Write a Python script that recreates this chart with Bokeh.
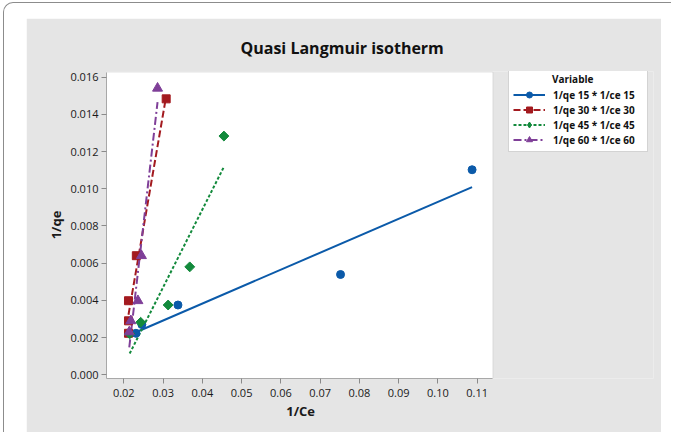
import numpy as np
from bokeh.plotting import figure
from bokeh.models import (Legend, LegendItem, FixedTicker, NumeralTickFormatter,
                          Title, BoxAnnotation)
from bokeh.layouts import column
from bokeh.embed import file_html
from bokeh.resources import INLINE

# ---- data ----
x15 = [0.0231, 0.0246, 0.0338, 0.0752, 0.1087]
y15 = [0.00223, 0.0027, 0.00375, 0.00539, 0.01102]
x30 = [0.0212, 0.0212, 0.0212, 0.0232, 0.0308]
y30 = [0.00223, 0.0029, 0.00398, 0.0064, 0.01483]
x45 = [0.0215, 0.0243, 0.0313, 0.0368, 0.0455]
y45 = [0.0022, 0.00282, 0.00375, 0.0058, 0.01283]
x60 = [0.0214, 0.0218, 0.0236, 0.0245, 0.0286]
y60 = [0.0023, 0.0029, 0.00398, 0.0064, 0.0154]
series_labels = ["1/qe 15 * 1/ce 15", "1/qe 30 * 1/ce 30",
                 "1/qe 45 * 1/ce 45", "1/qe 60 * 1/ce 60"]
x_ticks = [0.02, 0.03, 0.04, 0.05, 0.06, 0.07, 0.08, 0.09, 0.10, 0.11]
y_ticks = [0.000, 0.002, 0.004, 0.006, 0.008, 0.010, 0.012, 0.014, 0.016]

# plotted data window (white area) and extended frame holding the legend
X0, X1 = 0.0156, 0.1140
Y0, Y1 = -0.0002, 0.01627
X_FRAME_END = 0.1549
Y_FRAME_END = 0.01630

FONT = "Open Sans"
GRAY = "#e5e5e5"
NBSP = "\u00a0"
colors = ["#0b5aa9", "#a31a1f", "#138a3c", "#7f3f98"]
dashes = ["solid", "7 3", "3 2", "8 3 2 3"]
markers = ["circle", "square", "square", "triangle"]
angles = [0, 0, np.pi / 4, 0]
msizes = [8, 8, 7, 10]

p = figure(width=635, height=415, output_backend="svg", toolbar_location=None,
           x_range=(X0, X_FRAME_END), y_range=(Y0, Y_FRAME_END),
           min_border_left=80, min_border_right=8, min_border_top=53,
           min_border_bottom=55, background_fill_color=GRAY,
           border_fill_color=GRAY, outline_line_color=None)
p.grid.visible = False
p.margin = (15, 10, 0, 22)

p.add_layout(BoxAnnotation(left=X0, right=X1, bottom=Y0, top=Y1,
                           fill_color="white", fill_alpha=1.0,
                           line_color="#a8a8a8", line_width=1,
                           level="underlay"))

p.title = Title(text="Quasi Langmuir isotherm", align="left", offset=134,
                text_font=FONT, text_font_size="16px", text_font_style="bold",
                text_color="#111111", standoff=26)

for ax in (p.xaxis[0], p.yaxis[0]):
    ax.axis_line_color = "#a8a8a8"
    ax.major_tick_line_color = "#8a8a8a"
    ax.major_tick_out = 5
    ax.major_tick_in = 0
    ax.minor_tick_line_color = None
    ax.major_label_text_font = FONT
    ax.major_label_text_font_size = "11px"
    ax.major_label_text_color = "#1a1a1a"
    ax.axis_label_text_font = FONT
    ax.axis_label_text_font_size = "13px"
    ax.axis_label_text_font_style = "bold"
    ax.axis_label_text_color = "#1a1a1a"

p.xaxis.ticker = FixedTicker(ticks=x_ticks)
p.xaxis.formatter = NumeralTickFormatter(format="0.00")
p.xaxis.bounds = (X0, X1)
# trailing spaces shift the centred label over the white data window
p.xaxis.axis_label = "1/Ce" + NBSP * 47
p.xaxis.major_label_standoff = 5
p.xaxis.axis_label_standoff = 2
p.yaxis.ticker = FixedTicker(ticks=y_ticks)
p.yaxis.formatter = NumeralTickFormatter(format="0.000")
p.yaxis.bounds = (Y0, Y1)
p.yaxis.axis_label = "1/qe"
p.yaxis.major_label_standoff = 3
p.yaxis.axis_label_standoff = 2

xs_all = [x15, x30, x45, x60]
ys_all = [y15, y30, y45, y60]
line_rs, mark_rs = [], []
for i in range(4):
    xa = np.array(xs_all[i]); ya = np.array(ys_all[i])
    k, b = np.polyfit(xa, ya, 1)
    fx = [xa.min(), xa.max()]
    fy = [k * fx[0] + b, k * fx[1] + b]
    lr = p.line(fx, fy, line_color=colors[i], line_width=2, line_dash=dashes[i])
    line_rs.append(lr)
for i in range(4):
    mr = p.scatter(xs_all[i], ys_all[i], marker=markers[i], size=msizes[i],
                   angle=angles[i], fill_color=colors[i], line_color=colors[i])
    mark_rs.append(mr)

# hidden diamond renderer, only used for the legend symbol of series 45
dia = p.scatter(x45, y45, marker="diamond", size=11, fill_color=colors[2],
                line_color=colors[2], visible=False)
legend_syms = [mark_rs[0], mark_rs[1], dia, mark_rs[3]]

items = [LegendItem(label=series_labels[i] + NBSP * 3,
                    renderers=[line_rs[i], legend_syms[i]])
         for i in range(4)]
legend = Legend(items=items, location=(402, 226),
                title=NBSP * 15 + "Variable",
                title_text_font=FONT, title_text_font_size="10px",
                title_text_font_style="bold", title_text_color="#111111",
                title_standoff=1,
                label_text_font=FONT, label_text_font_size="10px",
                label_text_font_style="bold", label_text_color="#111111",
                label_height=15, glyph_height=15, glyph_width=32,
                label_standoff=8, spacing=0, padding=4, margin=0,
                inactive_fill_alpha=0.0,
                border_line_color="#a8a8a8", background_fill_color="white",
                background_fill_alpha=1.0)
p.add_layout(legend, "center")

outer = column(p, margin=(2, 0, 0, 3),
               styles={"border-top": "1px solid #8c8c8c",
                       "border-left": "1px solid #8c8c8c",
                       "border-top-left-radius": "10px"})

open("out.html", "w").write(file_html(outer, INLINE))
